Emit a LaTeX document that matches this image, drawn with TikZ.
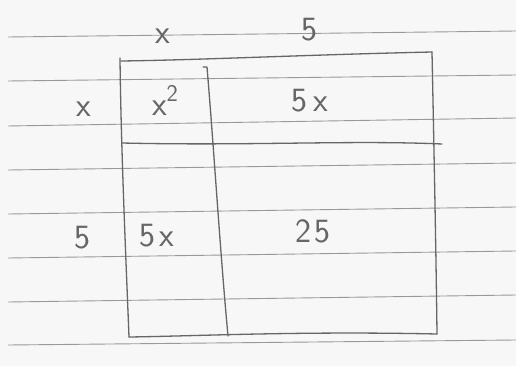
\documentclass[tikz,border=0pt]{standalone}
\begin{document}
\begin{tikzpicture}[x=1pt,y=-1pt,
  rule/.style={draw=black!40,line width=0.9pt},
  pencil/.style={draw=black!60,line width=1.3pt,line cap=round,line join=round},
  lbl/.style={text=black!60,font=\sffamily\fontsize{34}{38}\selectfont,inner sep=0pt}]
\useasboundingbox[fill=black!3] (0,0) rectangle (516,366);
% ruled paper lines
\foreach \yl/\yr in {37/31,81/75,126/118,170/163,214/207,258/251,302/295,345/340}
  \draw[rule] (8,\yl) -- (516,\yr);
% corners
\coordinate (tl) at (121,61);
\coordinate (tr) at (432,52);
\coordinate (bl) at (129,337);
\coordinate (br) at (437,334);
\coordinate (mt) at (207,67);
\coordinate (mb) at (228,336);
\coordinate (ml) at (122,143);
\coordinate (mr) at (442,144);
% outer box
\draw[pencil] (tl) .. controls (200,60) and (300,55) .. (tr);
\draw[pencil] (120,58) .. controls (121,150) and (126,260) .. (bl);
\draw[pencil] (tr) .. controls (434,150) and (436,250) .. (br);
\draw[pencil] (bl) .. controls (200,336) and (300,331) .. (br);
% inner lines
\draw[pencil] (203,67) -- (mt) .. controls (214,150) and (220,250) .. (mb);
\draw[pencil] (ml) .. controls (250,146) and (350,140) .. (mr);
% labels
\node[lbl] (tx) at (163,36) {x};
\node[lbl] (t5) at (309,30) {5};
\node[lbl] (lx) at (84,109) {x};
\node[lbl] (l5) at (82,238) {5};
\node[lbl] (sq) at (165,100) {x\raisebox{14pt}{\fontsize{24}{26}\selectfont 2}};
\node[lbl] (a5x) at (310,101) {5\kern6pt x};
\node[lbl] (b5x) at (157,236) {5\kern4pt x};
\node[lbl] (c25) at (313,231) {2\kern4pt 5};
\end{tikzpicture}
\end{document}
